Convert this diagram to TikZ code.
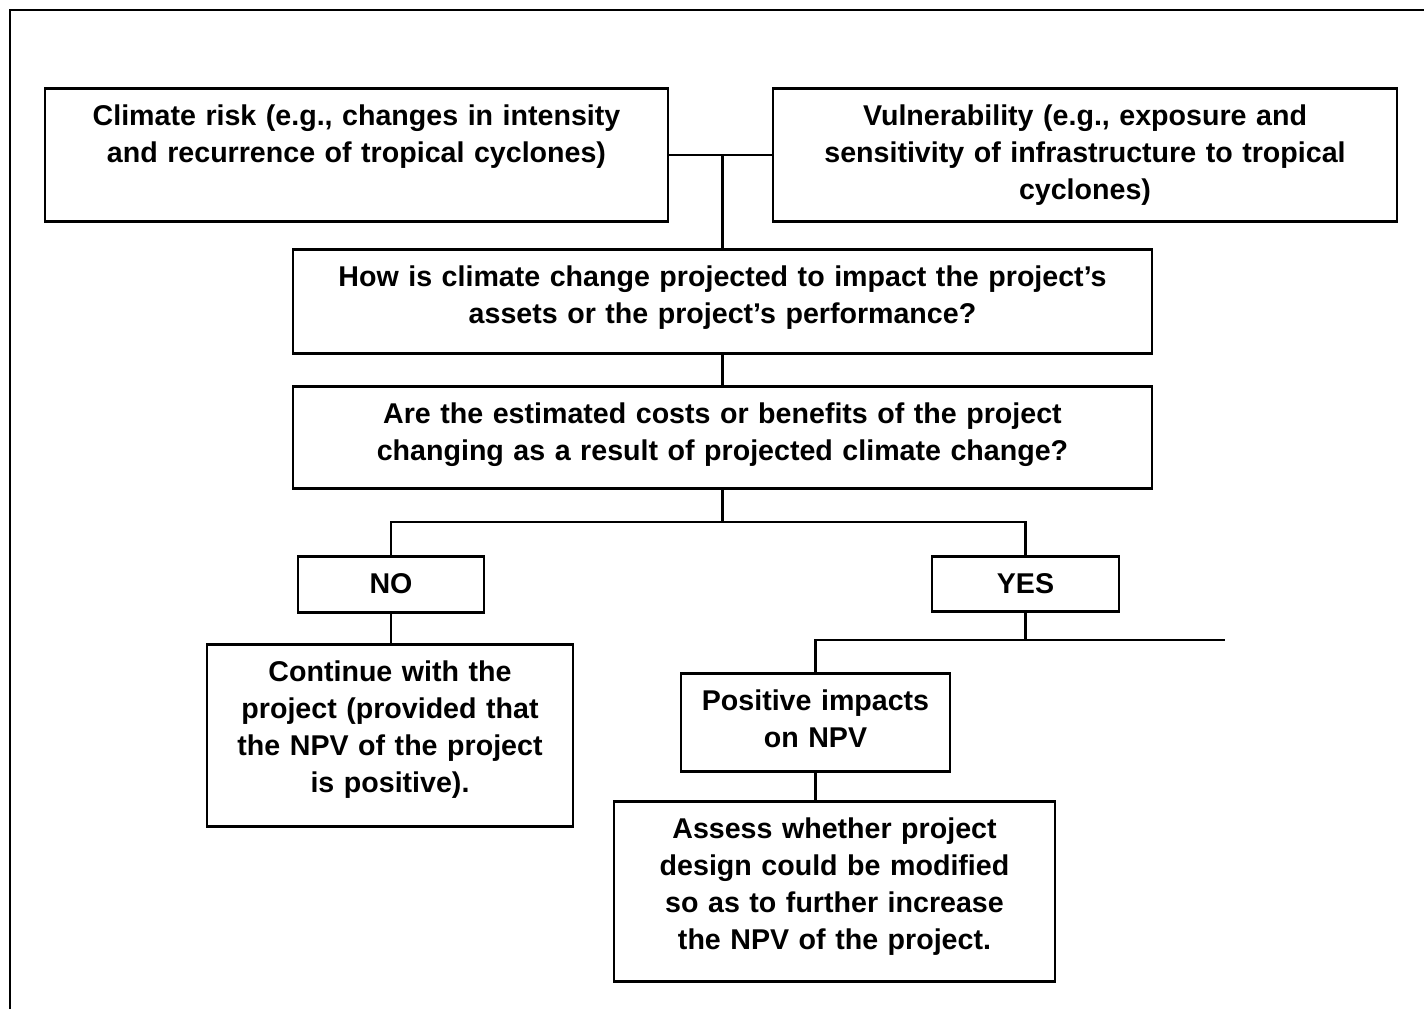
\documentclass[tikz,border=0pt]{standalone}
\usepackage{fontspec}
\setmainfont{Liberation Sans}[WordSpace=1.4]
\begin{document}
\begin{tikzpicture}[x=0.5pt, y=-0.5pt,
  blk/.style 2 args={draw, line width=1.4pt, anchor=north, align=center,
    inner xsep=4pt, inner ysep=0pt, text width=#1, text height=18.5pt, text depth=#2,
    font=\bfseries\fontsize{14.3pt}{18.5pt}\selectfont},
  link/.style={line width=1.2pt}]
  \useasboundingbox (0,0) rectangle (1424,1009);

  % frame
  \draw [line width=1pt] (10,1009) -- (10,10) -- (1424,10);

  % risk and vulnerability
  \node [blk={303.5pt}{48pt}] (clim) at (356.5,87)
    {Climate risk (e.g., changes in intensity\\ and recurrence of tropical cyclones)};
  \node [blk={304pt}{48pt}] (vuln) at (1085,87)
    {Vulnerability (e.g., exposure and\\ sensitivity of infrastructure to tropical\\ cyclones)};

  % questions
  \node [blk={421.5pt}{33.5pt}] (impact) at (722.5,248)
    {How is climate change projected to impact the project’s\\ assets or the project’s performance?};
  \node [blk={421.5pt}{32.5pt}] (costs) at (722.5,385)
    {Are the estimated costs or benefits of the project\\ changing as a result of projected climate change?};

  % answers
  \node [blk={85pt}{9.5pt}] (no) at (391,555) {NO};
  \node [blk={85.5pt}{9pt}] (yes) at (1025.5,555) {YES};

  % outcomes
  \node [blk={175pt}{72.5pt}] (cont) at (390,643)
    {Continue with the\\ project (provided that\\ the NPV of the project\\ is positive).};
  \node [blk={126.5pt}{30.5pt}] (pos) at (815.5,672)
    {Positive impacts\\ on NPV};
  \node [blk={212.5pt}{71.5pt}] (assess) at (834.5,800)
    {Assess whether project\\ design could be modified\\ so as to further increase\\ the NPV of the project.};

  % links
  \draw [link] (clim.east) -- (vuln.west);
  \draw [link] (impact.north) -- (impact.north |- clim.east);
  \draw [link] (impact.south) -- (costs.north);
  \draw [link] (costs.south) -- ++(0,32) coordinate (split);
  \draw [link] (no.north) |- (split) -| (yes.north);
  \draw [link] (no.south) -- (no.south |- cont.north);
  \coordinate (yesend) at (1225,640);
  \draw [link] (yes.south) -- (yes.south |- yesend);
  \draw [link] (pos.north) |- (yesend);
  \draw [link] (pos.south) -- (pos.south |- assess.north);

\end{tikzpicture}
\end{document}
